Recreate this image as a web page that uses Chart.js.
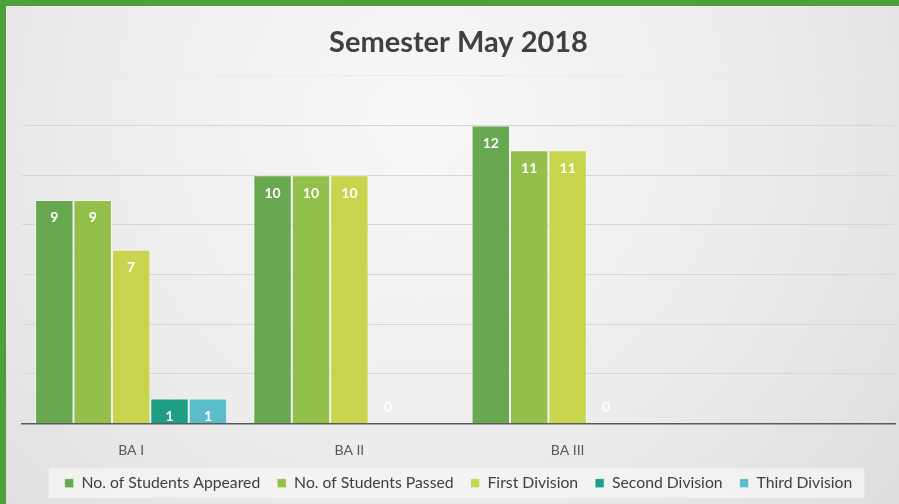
<!DOCTYPE html>
<html>
  <head>
    <title>Semester May 2018</title>
    <meta charset="UTF-8">
    <script src="https://cdn.jsdelivr.net/npm/chart.js"></script>
    <style>
      html, body { margin: 0; padding: 0; background: #ececec; }
      #wrap { width: 899px; height: 504px; position: relative; }
    </style>
  </head>
  <body>
    <div id="wrap">
      <canvas id="semChart" width="899" height="504"></canvas>
    </div>
    <script>
      // data
      const categories = ['BA I', 'BA II', 'BA III', ''];
      const appeared   = [9, 10, 12, null];
      const passed     = [9, 10, 11, null];
      const firstDiv   = [7, 10, 11, null];
      const secondDiv  = [1, 0, 0, null];
      const thirdDiv   = [1, null, null, null];
      const yTicks     = [0, 2, 4, 6, 8, 10, 12, 14];

      const FONT = 'Lato';

      // slide background + green frame
      const bgPlugin = {
        id: 'bg',
        beforeDraw(chart) {
          const c = chart.ctx, w = chart.width, h = chart.height;
          const g = c.createRadialGradient(420, 120, 20, 420, 120, 620);
          g.addColorStop(0, '#f7f7f7');
          g.addColorStop(0.55, '#ececec');
          g.addColorStop(1, '#dddddd');
          c.save();
          c.fillStyle = g;
          c.fillRect(0, 0, w, h);
          c.fillStyle = '#50a03a';
          c.fillRect(0, 0, w, 6);
          c.fillRect(0, 0, 6, h);
          // legend box
          const lg = chart.legend;
          if (lg && lg.legendHitBoxes.length) {
            const hb = lg.legendHitBoxes;
            const l = hb[0].left, r = hb[hb.length - 1].left + hb[hb.length - 1].width;
            const t = hb[0].top;
            c.fillStyle = 'rgba(245,245,245,0.75)';
            c.fillRect(l - 16, t - 7, r - l + 28, hb[0].height + 14);
          }
          c.restore();
        }
      };

      // value labels inside top of each bar
      const valuePlugin = {
        id: 'values',
        afterDatasetsDraw(chart) {
          const c = chart.ctx;
          c.save();
          c.font = 'bold 14px ' + FONT;
          c.fillStyle = '#ffffff';
          c.textAlign = 'center';
          c.textBaseline = 'middle';
          chart.data.datasets.forEach((ds, i) => {
            chart.getDatasetMeta(i).data.forEach((el, j) => {
              const v = ds.data[j];
              if (v === null || v === undefined) return;
              const y = v === 0 ? el.base - 16 : el.y + 18;
              c.fillText(String(v), el.x, y);
            });
          });
          c.restore();
        }
      };

      const mk = (label, data, color) => ({
        label: label,
        data: data,
        backgroundColor: color,
        borderColor: 'rgba(255,255,255,0.5)',
        borderWidth: 1,
        borderSkipped: 'bottom',
        categoryPercentage: 0.88,
        barPercentage: 1.0
      });

      const ctx = document.getElementById('semChart').getContext('2d');
      const semChart = new Chart(ctx, {
        type: 'bar',
        data: {
          labels: categories,
          datasets: [
            mk('No. of Students Appeared', appeared, '#67a851'),
            mk('No. of Students Passed', passed, '#93c04a'),
            mk('First Division', firstDiv, '#c6d44e'),
            mk('Second Division', secondDiv, '#1f9e85'),
            mk('Third Division', thirdDiv, '#5cbdca')
          ]
        },
        options: {
          responsive: false,
          animation: false,
          layout: { padding: { left: 22, right: 4, top: 6, bottom: 3 } },
          plugins: {
            title: {
              display: true,
              text: 'Semester May 2018',
              color: '#404040',
              font: { family: FONT, size: 29, weight: 'bold' },
              padding: { top: 19, bottom: 16 }
            },
            legend: {
              position: 'bottom',
              labels: {
                color: '#404040',
                font: { family: FONT, size: 15.75 },
                boxWidth: 9,
                boxHeight: 9,
                padding: 17
              }
            },
            tooltip: { enabled: false }
          },
          scales: {
            x: {
              grid: { display: false, drawTicks: false },
              border: { display: true, color: '#5a5a5a', width: 1.5 },
              ticks: {
                color: '#595959',
                font: { family: FONT, size: 14 },
                padding: 19
              },
              afterFit(scale) {
                scale.height -= 20;
              }
            },
            y: {
              min: yTicks[0],
              max: yTicks[yTicks.length - 1],
              afterBuildTicks(scale) {
                scale.ticks = yTicks.map(v => ({ value: v }));
              },
              ticks: { display: false },
              border: { display: false },
              grid: {
                drawTicks: false,
                color: c => c.tick && c.tick.value === 14 ? '#ebebeb' : '#d6d6d6',
                lineWidth: 1
              }
            }
          }
        },
        plugins: [bgPlugin, valuePlugin]
      });
    </script>
  </body>
</html>
